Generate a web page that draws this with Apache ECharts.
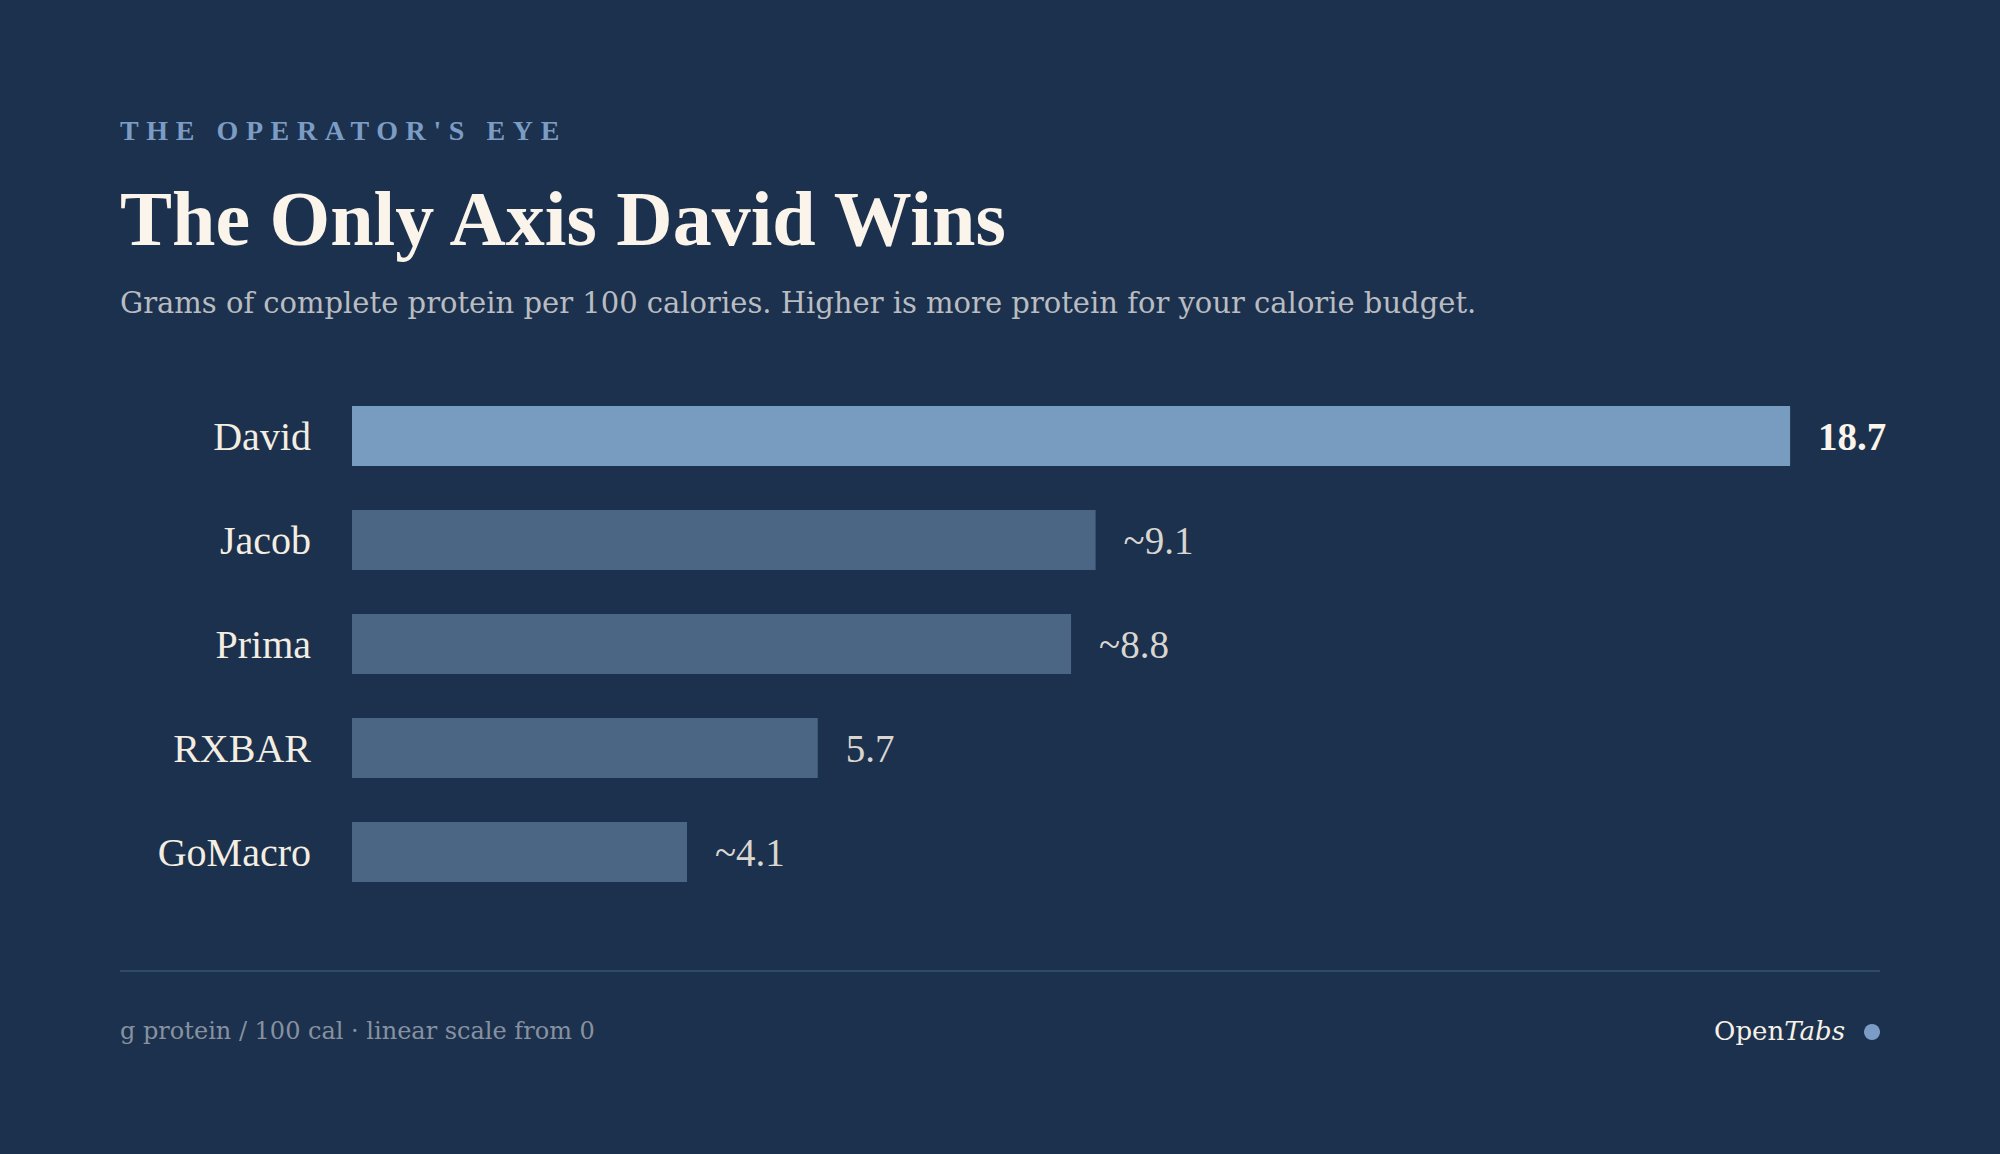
<!DOCTYPE html>
<html>
<head>
<meta charset="utf-8">
<title>The Only Axis David Wins</title>
<script src="https://cdn.jsdelivr.net/npm/echarts@6/dist/echarts.min.js"></script>
<style>
  html, body { margin: 0; padding: 0; background: #1c314d; }
  #chart { width: 2000px; height: 1154px; }
</style>
</head>
<body>
<div id="chart"></div>
<script>
// data
const categories = ['David', 'Jacob', 'Prima', 'RXBAR', 'GoMacro'];
const proteinPer100Cal = [18.7, 9.1, 8.8, 5.7, 4.1];
const isApprox = [false, true, true, false, true];
const highlight = 'David';

// the leading bar is trimmed so its label stays inside the frame
const barCap = 17.6;

const eyebrow = "THE OPERATOR'S EYE";
const serif = '"Liberation Serif", "DejaVu Serif", serif';
const bodySerif = '"DejaVu Serif", "Liberation Serif", serif';

const chart = echarts.init(document.getElementById('chart'), null, { renderer: 'svg' });

const barData = proteinPer100Cal.map((v, i) => {
  const isTop = categories[i] === highlight;
  return {
    value: Math.min(v, barCap),
    itemStyle: { color: isTop ? '#789bc0' : '#4b6684' },
    label: isTop ? { fontWeight: 'bold', color: '#faf4ea' } : {}
  };
});

chart.setOption({
  backgroundColor: '#1c314d',
  animation: false,
  grid: {
    left: 352,
    right: 120,
    top: 384,
    bottom: 250,
    containLabel: false,
    outerBoundsMode: 'none'
  },
  xAxis: {
    type: 'value',
    min: 0,
    max: Math.max(...proteinPer100Cal),
    show: false
  },
  yAxis: {
    type: 'category',
    data: categories,
    inverse: true,
    axisLine: { show: false },
    axisTick: { show: false },
    splitLine: { show: false },
    axisLabel: {
      color: '#f4ede2',
      fontFamily: serif,
      fontSize: 40,
      margin: 41
    }
  },
  series: [
    {
      type: 'bar',
      barWidth: 60,
      data: barData,
      label: {
        show: true,
        position: 'right',
        distance: 28,
        fontFamily: serif,
        fontSize: 39,
        color: '#d9d6d0',
        formatter: (p) => (isApprox[p.dataIndex] ? '~' : '') + proteinPer100Cal[p.dataIndex].toFixed(1)
      }
    }
  ],
  graphic: [
    {
      type: 'text', x: 120, y: 130,
      style: {
        text: eyebrow, fill: '#7b9cc4', fontFamily: serif, fontWeight: 'bold', fontSize: 28,
        align: 'left', verticalAlign: 'middle'
      }
    },
    {
      type: 'text', x: 120, y: 218,
      style: {
        text: 'The Only Axis David Wins', fill: '#faf4ea', fontFamily: serif, fontWeight: 'bold', fontSize: 78,
        align: 'left', verticalAlign: 'middle'
      }
    },
    {
      type: 'text', x: 120, y: 303,
      style: {
        text: 'Grams of complete protein per 100 calories. Higher is more protein for your calorie budget.',
        fill: '#b9bcc1', fontFamily: bodySerif, fontSize: 29,
        align: 'left', verticalAlign: 'middle'
      }
    },
    {
      type: 'line',
      shape: { x1: 120, y1: 971, x2: 1880, y2: 971 },
      style: { stroke: '#2f4b6b', lineWidth: 2 }
    },
    {
      type: 'text', x: 120, y: 1031,
      style: {
        text: 'g protein / 100 cal · linear scale from 0',
        fill: '#8791a0', fontFamily: bodySerif, fontSize: 24,
        align: 'left', verticalAlign: 'middle'
      }
    },
    {
      type: 'text', x: 1845, y: 1031,
      style: {
        text: '{a|Open}{b|Tabs}',
        fill: '#f6f0e6', fontFamily: bodySerif, fontSize: 26,
        align: 'right', verticalAlign: 'middle',
        rich: {
          a: { fontFamily: bodySerif, fontSize: 26, fill: '#f6f0e6' },
          b: { fontFamily: bodySerif, fontSize: 26, fontStyle: 'italic', fill: '#f6f0e6' }
        }
      }
    },
    {
      type: 'circle',
      shape: { cx: 1872, cy: 1032, r: 8 },
      style: { fill: '#7b9cc4' }
    }
  ]
});

// spaced capitals for the eyebrow line
function spaceEyebrow() {
  document.querySelectorAll('#chart text').forEach((t) => {
    if (t.textContent === eyebrow) t.setAttribute('letter-spacing', '7.6');
  });
}
spaceEyebrow();
chart.on('finished', spaceEyebrow);
</script>
</body>
</html>
